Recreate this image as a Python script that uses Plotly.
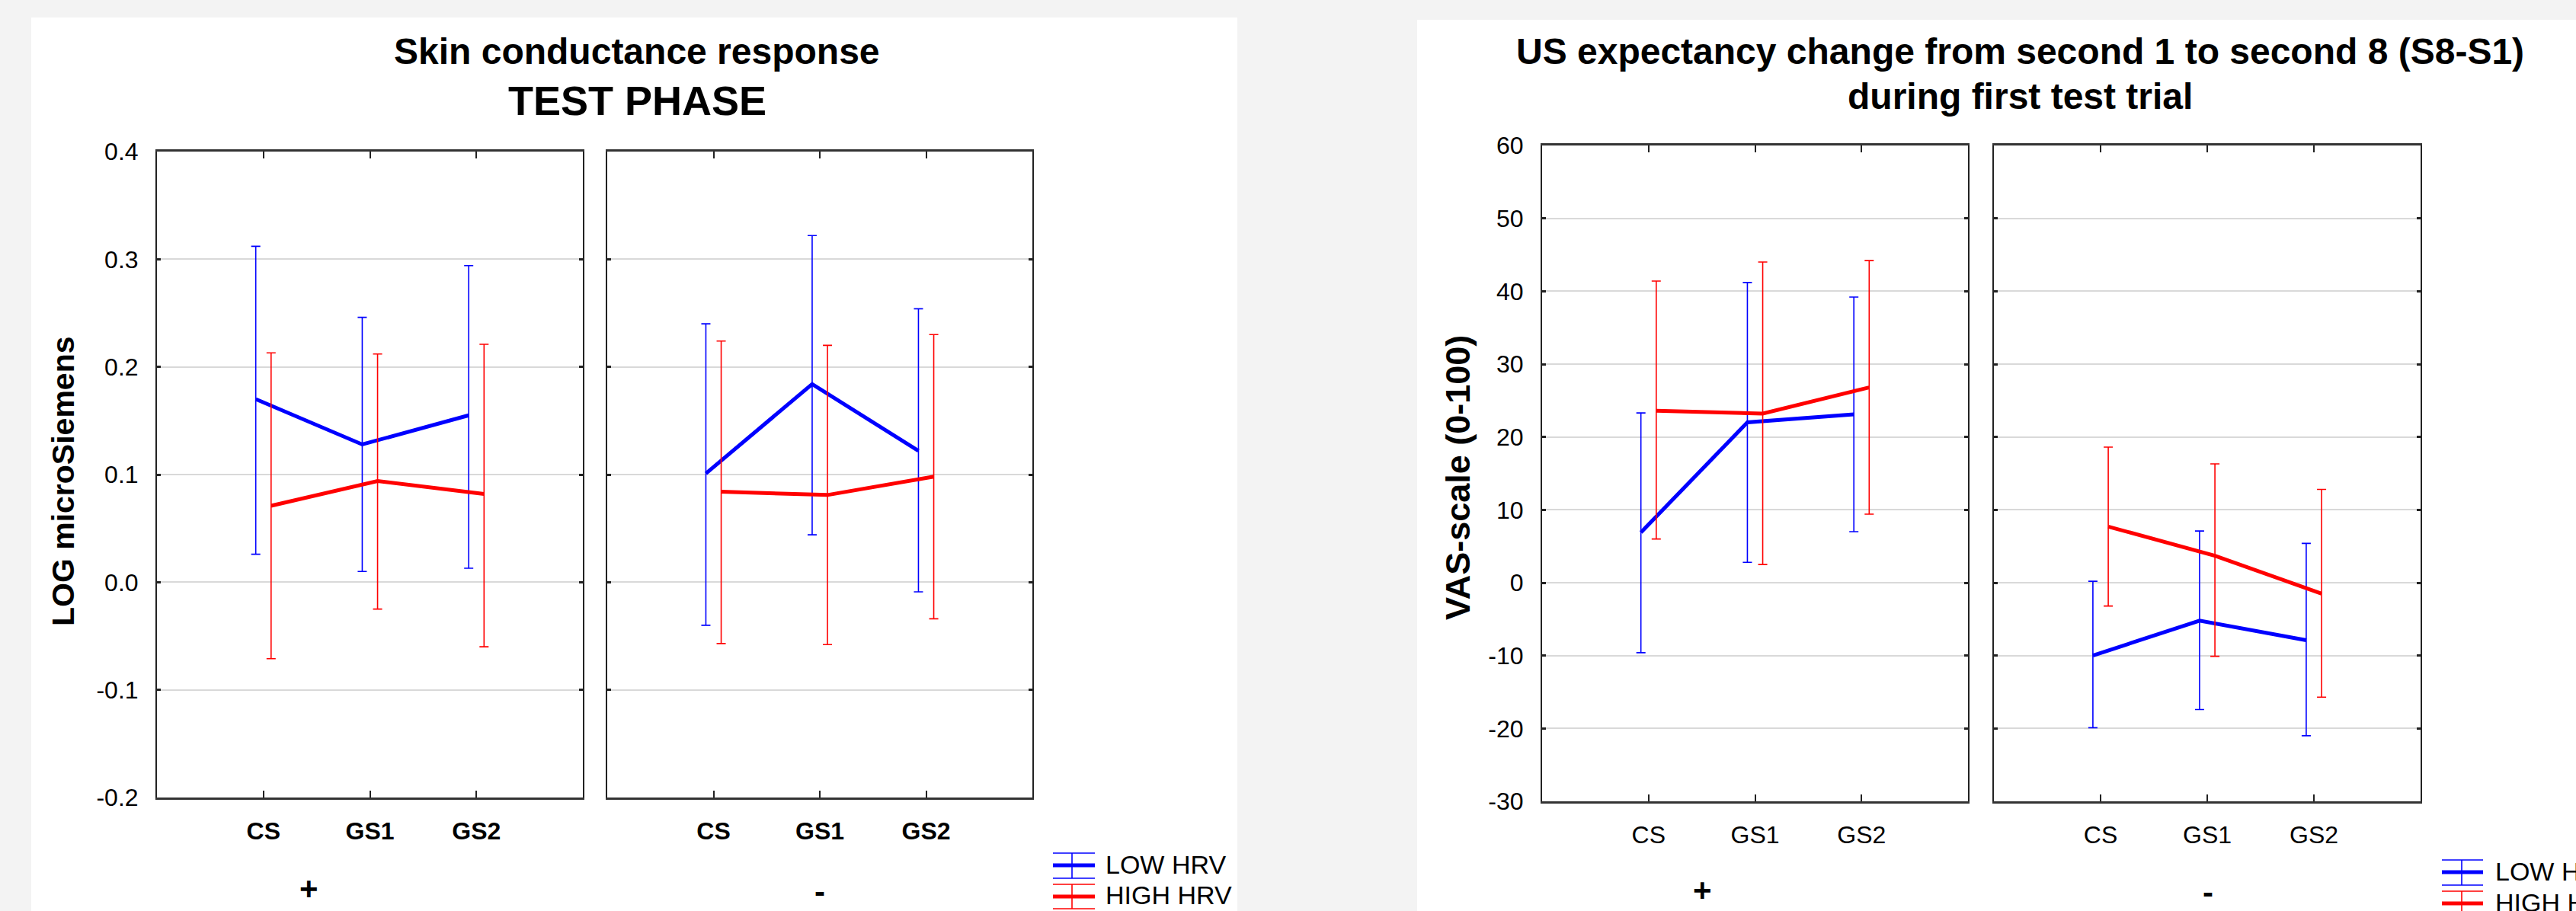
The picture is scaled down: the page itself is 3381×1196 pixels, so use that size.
import plotly.graph_objects as go

W, H = 3381, 1196

# ---------------- data ----------------
categories = ["CS", "GS1", "GS2"]
groups = ["LOW HRV", "HIGH HRV"]

# Skin conductance response (LOG microSiemens), test phase
scr_plus_low_mean = [0.170, 0.128, 0.155]
scr_plus_low_upper = [0.312, 0.246, 0.294]
scr_plus_low_lower = [0.026, 0.010, 0.013]
scr_plus_high_mean = [0.071, 0.094, 0.082]
scr_plus_high_upper = [0.213, 0.212, 0.221]
scr_plus_high_lower = [-0.071, -0.025, -0.060]
scr_minus_low_mean = [0.101, 0.184, 0.122]
scr_minus_low_upper = [0.240, 0.322, 0.254]
scr_minus_low_lower = [-0.040, 0.044, -0.009]
scr_minus_high_mean = [0.084, 0.081, 0.098]
scr_minus_high_upper = [0.224, 0.220, 0.230]
scr_minus_high_lower = [-0.057, -0.058, -0.034]

# US expectancy change S8-S1 (VAS 0-100), first test trial
us_plus_low_mean = [6.9, 22.0, 23.1]
us_plus_low_upper = [23.3, 41.2, 39.2]
us_plus_low_lower = [-9.6, 2.8, 7.0]
us_plus_high_mean = [23.6, 23.2, 26.8]
us_plus_high_upper = [41.4, 44.0, 44.2]
us_plus_high_lower = [6.0, 2.5, 9.4]
us_minus_low_mean = [-10.0, -5.2, -7.9]
us_minus_low_upper = [0.2, 7.1, 5.4]
us_minus_low_lower = [-19.9, -17.4, -21.0]
us_minus_high_mean = [7.7, 3.7, -1.5]
us_minus_high_upper = [18.6, 16.3, 12.8]
us_minus_high_lower = [-3.2, -10.1, -15.7]

scr_tickvals = [-0.2, -0.1, 0.0, 0.1, 0.2, 0.3, 0.4]
scr_ticktext = ["-0.2", "-0.1", "0.0", "0.1", "0.2", "0.3", "0.4"]
us_tickvals = [-30, -20, -10, 0, 10, 20, 30, 40, 50, 60]
us_ticktext = ["-30", "-20", "-10", "0", "10", "20", "30", "40", "50", "60"]

# ---------------- styling ----------------
BLUE = "#0000ff"
RED = "#ff0000"
FONT = "Liberation Sans, Arial, sans-serif"
OFFSET = 0.072


def px(x):
    return x / W


def py(y):
    return 1 - y / H


fig = go.Figure()


def add_series(mean, upper, lower, color, xa, ya, sign, name):
    xs = [i + 1 + sign * OFFSET for i in range(len(categories))]
    fig.add_trace(go.Scatter(
        x=xs, y=mean, mode="lines", name=name, showlegend=False,
        line=dict(color=color, width=5),
        error_y=dict(type="data", symmetric=False,
                     array=[u - m for u, m in zip(upper, mean)],
                     arrayminus=[m - l for m, l in zip(mean, lower)],
                     color=color, thickness=1.6, width=6),
        xaxis=xa, yaxis=ya,
    ))


add_series(scr_plus_low_mean, scr_plus_low_upper, scr_plus_low_lower, BLUE, "x", "y", -1, groups[0])
add_series(scr_plus_high_mean, scr_plus_high_upper, scr_plus_high_lower, RED, "x", "y", 1, groups[1])
add_series(scr_minus_low_mean, scr_minus_low_upper, scr_minus_low_lower, BLUE, "x2", "y2", -1, groups[0])
add_series(scr_minus_high_mean, scr_minus_high_upper, scr_minus_high_lower, RED, "x2", "y2", 1, groups[1])
add_series(us_plus_low_mean, us_plus_low_upper, us_plus_low_lower, BLUE, "x3", "y3", -1, groups[0])
add_series(us_plus_high_mean, us_plus_high_upper, us_plus_high_lower, RED, "x3", "y3", 1, groups[1])
add_series(us_minus_low_mean, us_minus_low_upper, us_minus_low_lower, BLUE, "x4", "y4", -1, groups[0])
add_series(us_minus_high_mean, us_minus_high_upper, us_minus_high_lower, RED, "x4", "y4", 1, groups[1])


def xaxis_cfg(domain, anchor, bold):
    text = ["<b>%s</b>" % c for c in categories] if bold else categories
    return dict(domain=domain, anchor=anchor, range=[0, 4],
                tickvals=[1, 2, 3], ticktext=text,
                ticks="inside", ticklen=9, tickwidth=1.5, tickcolor="#222",
                showline=True, mirror="allticks", linecolor="#333", linewidth=3,
                showgrid=False, zeroline=False, ticklabelstandoff=14,
                automargin=False,
                tickfont=dict(family=FONT, size=32, color="black"), fixedrange=True)


def yaxis_cfg(domain, anchor, rng, tv, tt, labels):
    return dict(domain=domain, anchor=anchor, range=rng,
                tickvals=tv, ticktext=tt, showticklabels=labels,
                ticks="inside", ticklen=5, tickwidth=2.5, tickcolor="#222",
                showline=True, mirror="allticks", linecolor="#222", linewidth=2,
                showgrid=True, gridcolor="#d9d9d9", gridwidth=2, zeroline=False,
                ticklabelstandoff=16, automargin=False,
                tickfont=dict(family=FONT, size=32, color="black"), fixedrange=True)


scr_ydom = [py(1047), py(199)]
us_ydom = [py(1052), py(191)]

fig.update_layout(
    width=W, height=H,
    margin=dict(l=0, r=0, t=0, b=0, pad=0, autoexpand=False),
    paper_bgcolor="#f3f3f3", plot_bgcolor="white",
    showlegend=False,
    xaxis=xaxis_cfg([px(206), px(765)], "y", True),
    xaxis2=xaxis_cfg([px(797), px(1355)], "y2", True),
    xaxis3=xaxis_cfg([px(2024), px(2583)], "y3", False),
    xaxis4=xaxis_cfg([px(2617), px(3177)], "y4", False),
    yaxis=yaxis_cfg(scr_ydom, "x", [-0.2, 0.4], scr_tickvals, scr_ticktext, True),
    yaxis2=yaxis_cfg(scr_ydom, "x2", [-0.2, 0.4], scr_tickvals, scr_ticktext, False),
    yaxis3=yaxis_cfg(us_ydom, "x3", [-30, 60], us_tickvals, us_ticktext, True),
    yaxis4=yaxis_cfg(us_ydom, "x4", [-30, 60], us_tickvals, us_ticktext, False),
)

shapes = []
# white cards
shapes.append(dict(type="rect", xref="paper", yref="paper", layer="below",
                   x0=px(41), x1=px(1624), y0=0, y1=py(23),
                   fillcolor="white", line=dict(width=0)))
shapes.append(dict(type="rect", xref="paper", yref="paper", layer="below",
                   x0=px(1860), x1=1, y0=0, y1=py(26),
                   fillcolor="white", line=dict(width=0)))


def legend_symbol(x0, x1, xc, ymid, ytop, ybot, color):
    s = []
    s.append(dict(type="line", xref="paper", yref="paper", x0=px(x0), x1=px(x1),
                  y0=py(ymid), y1=py(ymid), line=dict(color=color, width=5)))
    for yy in (ytop, ybot):
        s.append(dict(type="line", xref="paper", yref="paper", x0=px(x0), x1=px(x1),
                      y0=py(yy), y1=py(yy), line=dict(color=color, width=1.6)))
    s.append(dict(type="line", xref="paper", yref="paper", x0=px(xc), x1=px(xc),
                  y0=py(ytop), y1=py(ybot), line=dict(color=color, width=1.6)))
    return s


shapes += legend_symbol(1382, 1437, 1407, 1136, 1120, 1153, BLUE)
shapes += legend_symbol(1382, 1437, 1407, 1177, 1161, 1193, RED)
shapes += legend_symbol(3205, 3259, 3231, 1145, 1129, 1162, BLUE)
shapes += legend_symbol(3205, 3259, 3231, 1186, 1170, 1202, RED)
fig.update_layout(shapes=shapes)

ann = []


def text(x, y, s, size, bold=False, angle=0, xanchor="center"):
    ann.append(dict(x=px(x), y=py(y), xref="paper", yref="paper", showarrow=False,
                    text="<b>%s</b>" % s if bold else s, textangle=angle,
                    xanchor=xanchor, yanchor="middle",
                    font=dict(family=FONT, size=size, color="black")))


# titles
text(836, 68, "Skin conductance response", 48, bold=True)
text(836, 132, "TEST PHASE", 54, bold=True)
text(2651, 68, "US expectancy change from second 1 to second 8 (S8-S1)", 48, bold=True)
text(2651, 126, "during first test trial", 48, bold=True)
# y-axis titles
text(83, 632, "LOG microSiemens", 41, bold=True, angle=-90)
text(1913, 627, "VAS-scale (0-100)", 45, bold=True, angle=-90)
# panel factor labels
text(405, 1166, "+", 42, bold=True)
text(1076, 1170, "-", 42, bold=True)
text(2234, 1168, "+", 42, bold=True)
text(2898, 1171, "-", 42, bold=True)
# legends
text(1449, 1135, groups[0], 34, xanchor="left")
text(1449, 1175, groups[1], 34, xanchor="left")
text(3273, 1144, groups[0], 34, xanchor="left")
text(3273, 1185, groups[1], 34, xanchor="left")

fig.update_layout(annotations=ann)

fig.write_html(
    "out.html",
    config={"displayModeBar": False},
    post_script="document.body.style.margin='0';document.body.style.overflow='hidden';",
)
